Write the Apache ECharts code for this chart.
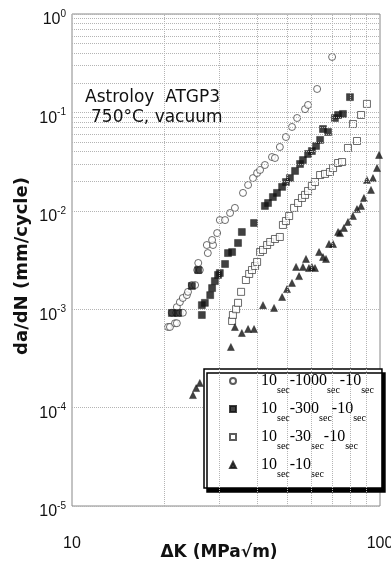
<!DOCTYPE html>
<html><head><meta charset="utf-8">
<script src="https://cdn.jsdelivr.net/npm/echarts@6/dist/echarts.min.js"></script>
<style>html,body{margin:0;padding:0;background:#fff}#c{width:391px;height:567px}</style>
</head><body><div id="c"></div>
<script>
// ---- data (ΔK in MPa√m, da/dN in mm/cycle) ----
const xTicks = [10, 100];
const yTicks = [1e-5, 1e-4, 1e-3, 1e-2, 1e-1, 1];
const xGridValues = [20, 30, 40, 50, 60, 70, 80, 90];
const yMinorMultipliers = [2, 3, 4, 5, 6, 7, 8, 9];

const seriesNames = ['10-1000-10', '10-300-10', '10-30-10', '10-10'];
const legendParts = [['10', '-1000', '-10'], ['10', '-300', '-10'], ['10', '-30', '-10'], ['10', '-10']];

const hold1000 = [
[20.5,6.6e-4],[20.8,6.6e-4],[21.6,7.2e-4],[21.9,7.2e-4],[21.1,9.2e-4],[21.8,9.2e-4],[22.4,9.2e-4],[22.9,9.2e-4],
[21.9,1.05e-3],[22.4,1.18e-3],[22.9,1.30e-3],[23.6,1.39e-3],[23.8,1.50e-3],[24.5,1.76e-3],[25.1,1.76e-3],
[25.5,2.50e-3],[26.0,2.50e-3],[25.7,2.95e-3],[27.6,3.72e-3],[27.4,4.49e-3],[28.7,4.49e-3],[28.5,5.05e-3],
[29.6,5.94e-3],[30.2,8.05e-3],[31.4,8.05e-3],[32.6,9.5e-3],[33.8,1.07e-2],[35.9,1.52e-2],[37.3,1.83e-2],
[38.7,2.15e-2],[39.9,2.42e-2],[40.8,2.60e-2],[42.3,2.92e-2],[44.6,3.52e-2],[45.6,3.44e-2],[47.3,4.45e-2],
[49.5,5.62e-2],[51.8,7.11e-2],[53.8,8.77e-2],[57.1,0.108],[58.4,0.119],[62.5,0.173],[69.9,0.366]
];
const hold300 = [
[21.1,9.15e-4],[22.1,9.15e-4],[24.5,1.72e-3],[25.7,2.50e-3],[26.4,8.73e-4],[26.4,1.10e-3],[27.0,1.16e-3],
[28.1,1.39e-3],[28.5,1.64e-3],[29.1,1.93e-3],[29.8,2.23e-3],[30.2,2.33e-3],[31.4,2.88e-3],[32.1,3.72e-3],
[33.1,3.81e-3],[34.6,4.71e-3],[35.6,6.09e-3],[39.0,7.52e-3],[42.3,1.12e-2],[43.3,1.20e-2],[44.9,1.38e-2],
[46.3,1.52e-2],[48.1,1.75e-2],[49.5,1.96e-2],[51.0,2.15e-2],[53.0,2.54e-2],[55.0,2.99e-2],[56.2,3.28e-2],
[58.4,3.78e-2],[60.1,4.05e-2],[62.0,4.56e-2],[63.9,5.25e-2],[65.3,6.78e-2],[67.8,6.32e-2],[71.4,8.77e-2],
[73.1,9.41e-2],[75.8,9.64e-2],[79.9,0.143]
];
const hold30 = [
[33.1,7.59e-4],[33.3,8.73e-4],[34.1,1.00e-3],[34.6,1.16e-3],[35.4,1.50e-3],[36.7,1.98e-3],[37.6,2.28e-3],
[38.4,2.50e-3],[39.3,2.75e-3],[39.9,3.02e-3],[40.8,3.81e-3],[41.7,4.00e-3],[43.0,4.49e-3],[44.0,4.82e-3],
[45.6,5.17e-3],[47.3,5.42e-3],[48.4,7.18e-3],[49.5,7.87e-3],[50.7,8.85e-3],[52.6,1.07e-2],[54.2,1.20e-2],
[55.8,1.35e-2],[57.1,1.45e-2],[58.4,1.59e-2],[60.1,1.79e-2],[61.5,1.96e-2],[63.9,2.31e-2],[66.3,2.37e-2],
[68.8,2.48e-2],[70.4,2.72e-2],[73.1,3.06e-2],[75.3,3.13e-2],[78.7,4.35e-2],[84.2,5.12e-2],[81.7,7.62e-2],
[86.8,9.41e-2],[90.7,0.122]
];
const hold10 = [
[24.7,1.34e-4],[25.3,1.58e-4],[26.0,1.78e-4],[32.8,4.13e-4],[33.8,6.59e-4],[35.6,5.73e-4],[37.3,6.29e-4],
[39.0,6.29e-4],[41.7,1.10e-3],[45.3,1.03e-3],[48.1,1.33e-3],[49.9,1.60e-3],[51.8,1.85e-3],[53.4,2.69e-3],
[54.6,2.17e-3],[56.2,2.69e-3],[57.5,3.24e-3],[58.8,2.62e-3],[60.1,2.69e-3],[61.5,2.62e-3],[63.4,3.81e-3],
[65.3,3.39e-3],[66.8,3.24e-3],[68.3,4.60e-3],[70.4,4.60e-3],[73.1,6.09e-3],[74.2,5.94e-3],[76.4,6.69e-3],
[78.7,7.69e-3],[81.7,8.85e-3],[84.2,1.04e-2],[86.8,1.12e-2],[88.7,1.35e-2],[90.7,2.06e-2],[93.5,1.63e-2],
[94.9,2.15e-2],[97.8,2.72e-2],[99.3,3.69e-2]
];

// minor horizontal grid values (2..9 x each decade)
const yMinorValues = [];
for (let i = 0; i < yTicks.length - 1; i++) {
  yMinorMultipliers.forEach(m => yMinorValues.push(+(m * yTicks[i]).toPrecision(3)));
}

const SANS = '"Liberation Sans", Arial, sans-serif';
const WIDE = '"DejaVu Sans", "Liberation Sans", sans-serif';
const SERIF = '"Liberation Serif", "Times New Roman", serif';
const INK = '#111';
const GRIDC = '#b4b4b4';

const chart = echarts.init(document.getElementById('c'), null, {renderer: 'canvas'});
chart.setOption({
  animation: false,
  backgroundColor: '#fff',
  grid: {left: 72, right: 11, top: 14, bottom: 61, outerBoundsMode: 'none', containLabel: false,
         show: true, borderColor: '#888', borderWidth: 1, backgroundColor: 'transparent'},
  xAxis: {
    type: 'log', logBase: 10, min: xTicks[0], max: xTicks[xTicks.length - 1],
    name: 'ΔK (MPa√m)', nameLocation: 'middle', nameGap: 38, nameMoveOverlap: false,
    nameTextStyle: {fontFamily: WIDE, fontSize: 17, fontWeight: 'bold', color: INK, padding: [0, 14, 0, 0]},
    axisLine: {show: false}, axisTick: {show: false},
    axisLabel: {margin: 30, fontFamily: SANS, fontSize: 16, color: INK, formatter: v => String(Math.round(v))},
    splitLine: {show: false}
  },
  yAxis: {
    type: 'log', logBase: 10, min: yTicks[0], max: yTicks[yTicks.length - 1],
    name: 'da/dN (mm/cycle)', nameLocation: 'middle', nameGap: 41, nameMoveOverlap: false,
    nameTextStyle: {fontFamily: WIDE, fontSize: 18, fontWeight: 'bold', color: INK, padding: [0, 12, 0, 0]},
    axisLine: {show: false}, axisTick: {show: false},
    axisLabel: {
      margin: 6, color: INK,
      formatter: v => '{b|10}{s|' + Math.round(Math.log10(v)) + '}',
      rich: {
        b: {fontFamily: SANS, fontSize: 16, lineHeight: 14, verticalAlign: 'bottom', color: INK},
        s: {fontFamily: SANS, fontSize: 10, lineHeight: 28, verticalAlign: 'middle', color: INK}
      }
    },
    splitLine: {show: true, lineStyle: {type: 'dotted', color: GRIDC, width: 1}}
  },
  legend: {
    data: seriesNames, orient: 'vertical', left: 204, top: 369,
    padding: [4, 8, 9, 25], itemGap: 6, itemWidth: 6, itemHeight: 6,
    selectedMode: false,
    backgroundColor: '#fff', borderColor: '#000', borderWidth: 1.5, borderRadius: 0,
    shadowColor: '#000', shadowBlur: 0, shadowOffsetX: 3, shadowOffsetY: 4,
    formatter: name => {
      const parts = legendParts[seriesNames.indexOf(name)];
      return '{g| }' + parts.map(p => '{m|' + p + '}{s|sec}').join('');
    },
    textStyle: {
      color: '#000',
      rich: {
        g: {width: 20, fontSize: 10},
        m: {fontFamily: SERIF, fontSize: 16, lineHeight: 28, verticalAlign: 'middle', color: '#000'},
        s: {fontFamily: SERIF, fontSize: 10, lineHeight: 6, verticalAlign: 'bottom', color: '#000'}
      }
    }
  },
  graphic: [
    {type: 'text', left: 85, top: 89, z: 10, style: {text: 'Astroloy  ATGP3', font: '17px ' + WIDE, fill: INK}},
    {type: 'text', left: 91, top: 109, z: 10, style: {text: '750°C, vacuum', font: '17px ' + WIDE, fill: INK}}
  ],
  series: [
    {
      type: 'scatter', name: 'grid', data: [], silent: true, z: 1,
      markLine: {
        silent: true, symbol: ['none', 'none'], label: {show: false}, animation: false,
        lineStyle: {type: 'dotted', color: GRIDC, width: 1},
        emphasis: {disabled: true},
        data: xGridValues.map(v => ({xAxis: v})).concat(yMinorValues.map(v => ({yAxis: v})))
      }
    },
    {type: 'scatter', name: seriesNames[0], data: hold1000, z: 3, symbol: 'circle', symbolSize: 7,
     itemStyle: {color: '#fff', borderColor: '#333', borderWidth: 0.9}},
    {type: 'scatter', name: seriesNames[1], data: hold300, z: 3, symbol: 'rect', symbolSize: 7,
     itemStyle: {color: '#111', borderColor: '#111', borderWidth: 0.5}},
    {type: 'scatter', name: seriesNames[2], data: hold30, z: 3, symbol: 'rect', symbolSize: 7,
     itemStyle: {color: '#fff', borderColor: '#333', borderWidth: 0.9}},
    {type: 'scatter', name: seriesNames[3], data: hold10, z: 3, symbol: 'triangle', symbolSize: 7,
     itemStyle: {color: '#111', borderColor: '#111', borderWidth: 0.5}}
  ]
});
</script>
</body></html>
